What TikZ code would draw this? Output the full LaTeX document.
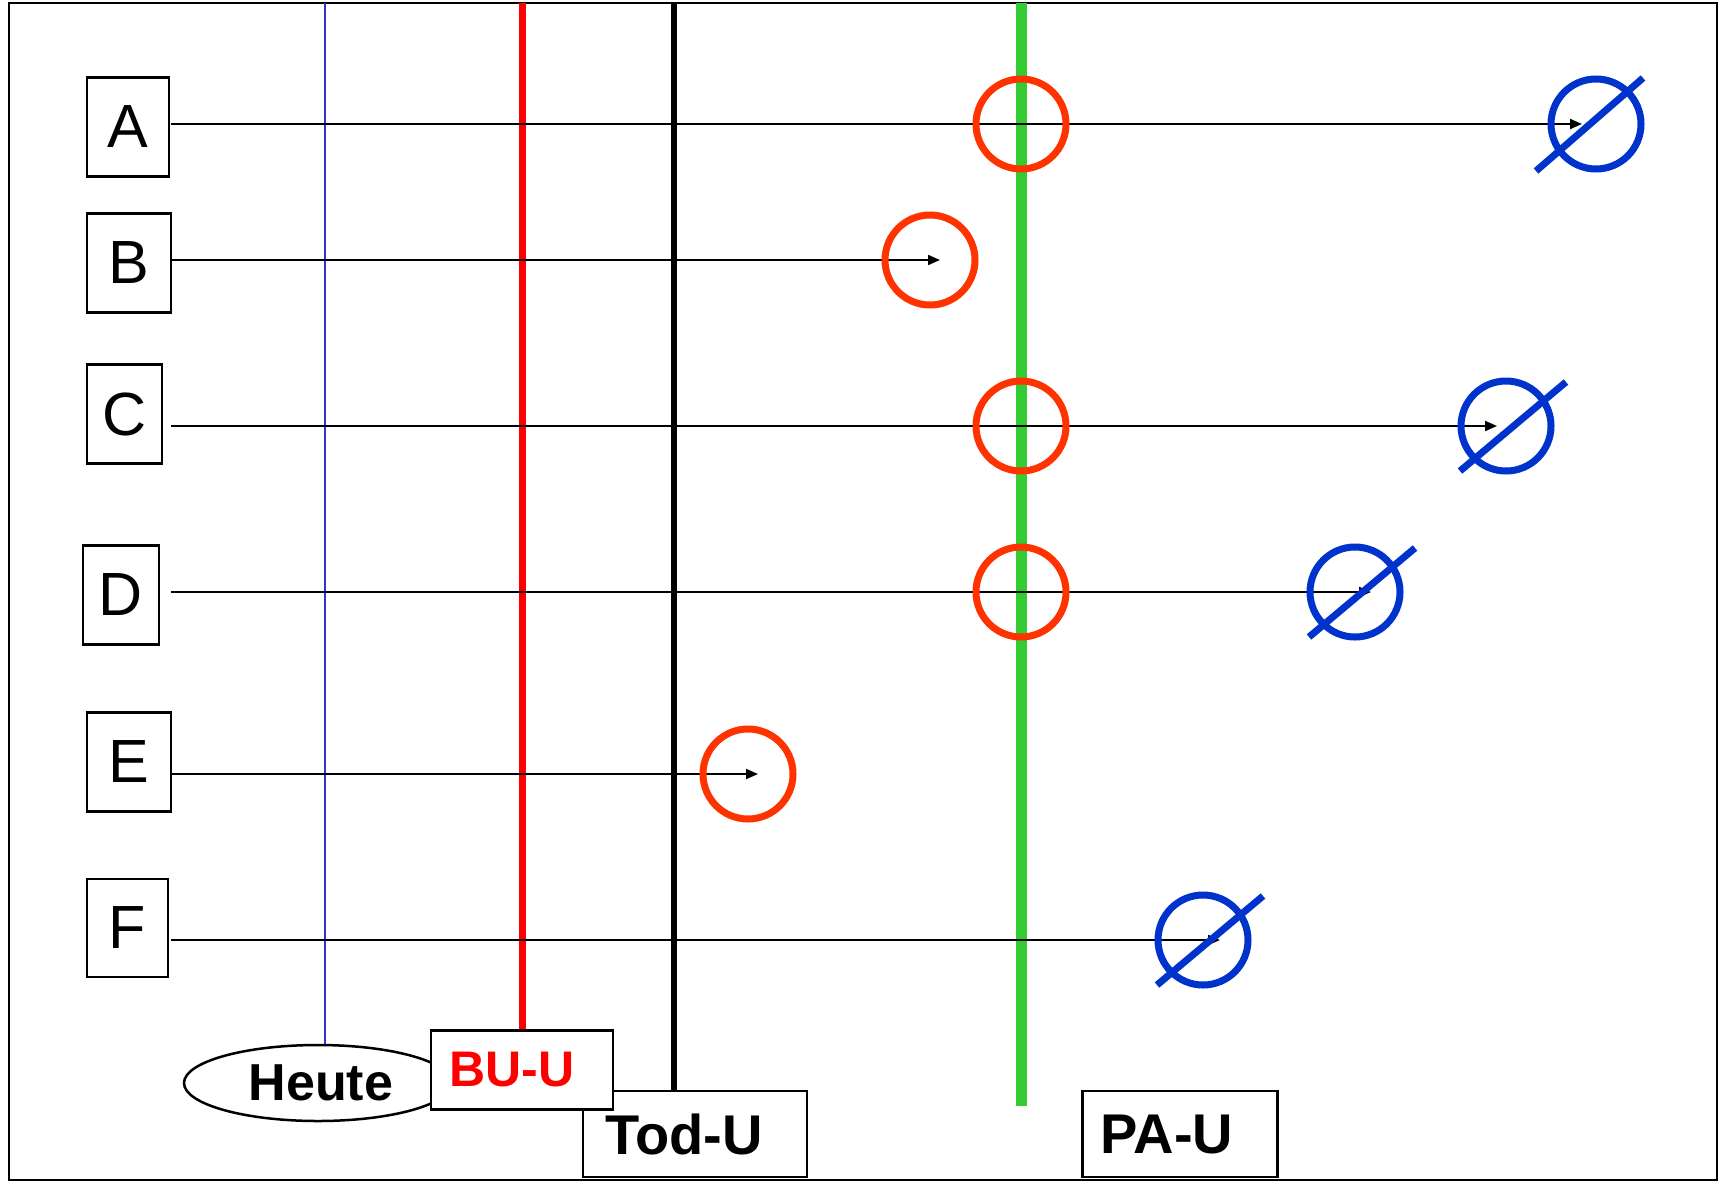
\documentclass[tikz,border=0pt]{standalone}
\usepackage{fontspec}
\setmainfont{Liberation Sans}
\newfontfamily\labfont{Liberation Sans Bold}
\usetikzlibrary{arrows.meta,shapes.geometric}
\definecolor{ringred}{HTML}{FF3300}
\definecolor{ringblue}{HTML}{0033CC}
\definecolor{todaybl}{HTML}{3333CC}
\definecolor{paugreen}{HTML}{33CC33}
\definecolor{buured}{HTML}{FF0000}
\begin{document}
\begin{tikzpicture}[x=1pt,y=-1pt,
  letterbox/.style={draw,line width=2.2pt,fill=white,inner sep=0pt,font=\fontsize{61}{61}\selectfont},
  labbox/.style={draw,line width=2.5pt,fill=white,inner sep=0pt,font=\labfont\fontsize{56}{56}\selectfont},
  hline/.style={line width=2pt,-{Triangle[length=12pt,width=10pt]}},
  redring/.style={circle,draw=ringred,line width=7pt,minimum size=90pt,inner sep=0pt},
  bluering/.style={circle,draw=ringblue,line width=7pt,minimum size=90pt,inner sep=0pt},
  slash/.style={draw=ringblue,line width=7pt}]
\useasboundingbox (0,0) rectangle (1720,1183);
\fill[white] (0,0) rectangle (1720,1183);
\draw[line width=2.5pt] (9,3) rectangle (1717,1180);

% bottom labels
\node[ellipse,draw,line width=2.5pt,fill=white,minimum width=268pt,minimum height=76pt,inner sep=0pt,
      font=\labfont\fontsize{52}{52}\selectfont] (Heute) at (318,1083) {\kern6pt\raisebox{-5pt}{Heute}};
\node[labbox,minimum width=224pt,minimum height=86pt] (Tod) at (695,1134) {Tod-U\kern22pt};
\node[labbox,minimum width=182pt,minimum height=79pt,text=buured,font=\labfont\fontsize{50}{50}\selectfont] (BU) at (522,1070) {\raisebox{-2pt}{BU-U}\kern20pt};
\node[labbox,minimum width=195pt,minimum height=86pt] (PA) at (1180,1134) {PA-U\kern26pt};

% vertical lines
\coordinate (tH) at (325,3);
\coordinate (tB) at (522,3);
\coordinate (tT) at (674,3);
\coordinate (tP) at (1021,3);
\coordinate (bP) at (1021,1106);
\draw[todaybl,line width=1.3pt] (tH) -- (tH |- Heute.north);
\draw[buured,line width=7pt] (tB) -- (BU.north);
\draw[black,line width=6pt] (tT) -- (tT |- Tod.north);
\draw[paugreen,line width=11pt] (tP) -- (bP);

% letter boxes
\node[letterbox,minimum width=82pt,minimum height=99pt] (A) at (128,127) {A};
\node[letterbox,minimum width=84pt,minimum height=99pt] (B) at (129,263) {B};
\node[letterbox,minimum width=75pt,minimum height=99pt] (C) at (124.5,414) {C};
\node[letterbox,minimum width=76pt,minimum height=99pt] (D) at (121,595) {D};
\node[letterbox,minimum width=84pt,minimum height=99pt] (E) at (129,762) {E};
\node[letterbox,minimum width=81pt,minimum height=98pt] (F) at (127.5,928) {F};

% connector start / end points
\coordinate (sA) at (171,124);  \coordinate (eA) at (1582,124);
\coordinate (sB) at (171,260);  \coordinate (eB) at (940,260);
\coordinate (sC) at (171,426);  \coordinate (eC) at (1497,426);
\coordinate (sD) at (171,592);  \coordinate (eD) at (1371,592);
\coordinate (sE) at (171,774);  \coordinate (eE) at (758,774);
\coordinate (sF) at (171,940);  \coordinate (eF) at (1220,940);
\draw[hline] (sA) -- (eA);
\draw[hline] (sB) -- (eB);
\draw[hline] (sC) -- (eC);
\draw[hline] (sD) -- (eD);
\draw[hline] (sE) -- (eE);
\draw[hline] (sF) -- (eF);

% red rings
\node[redring] (rA) at (1021,124) {};
\node[redring] (rB) at (930,260) {};
\node[redring] (rC) at (1021,426) {};
\node[redring] (rD) at (1021,592) {};
\node[redring] (rE) at (748,774) {};

% blue crossed rings
\node[bluering] (bA) at (1596,124) {};
\node[bluering] (bC) at (1506,426) {};
\node[bluering] (bD) at (1355,592) {};
\node[bluering] (bF) at (1203,940) {};
\draw[slash] ([shift={(-60,47)}]bA.center) -- ([shift={(47,-46)}]bA.center);
\foreach \n in {bC,bD,bF}{
  \draw[slash] ([shift={(-46,45)}]\n.center) -- ([shift={(60,-44)}]\n.center);
}
\end{tikzpicture}
\end{document}
